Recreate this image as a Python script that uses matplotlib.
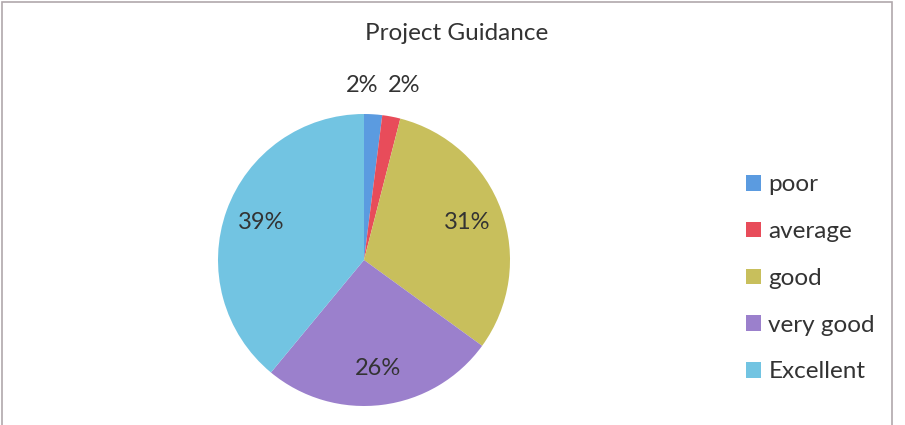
import numpy as np
from matplotlib import pyplot as plt
from matplotlib.patches import Rectangle

# Chart data.
categories = ['poor', 'average', 'good', 'very good', 'Excellent']
shares = [2, 2, 31, 26, 39]
colors = ['#5b9be0', '#e84c5a', '#c8bf5c', '#9b80cc', '#72c4e2']

W, H = 905, 425


def generatePlot():
  fig = plt.figure(figsize=(W / 100, H / 100), dpi=100)
  plt.rcParams['font.family'] = ['Lato', 'DejaVu Sans']
  textColor = '#333333'

  # Frame around the chart.
  fig.patches.append(Rectangle((2 / W, -0.05), 890 / W, 1.05 - 2 / H,
                               transform=fig.transFigure, fill=False,
                               edgecolor='#b0a8ac', linewidth=1.2))

  # Pie axes: center (364, 260) px, radius 146 px.
  cx, cy, r = 364, 260, 146
  ax = fig.add_axes([(cx - r) / W, (H - cy - r) / H, 2 * r / W, 2 * r / H])
  wedges, _ = ax.pie(shares, colors=colors, startangle=90, counterclock=False,
                     radius=1, wedgeprops=dict(linewidth=0))
  ax.set_xlim(-1, 1)
  ax.set_ylim(-1, 1)
  ax.set_aspect('equal')
  ax.axis('off')

  # Data labels: inside for big slices, above for the small ones.
  nudges = [(-9, 0), (5, 2), (0, 0), (0, 0), (0, 0)]
  for w, v, (nx, ny) in zip(wedges, shares, nudges):
    ang = np.deg2rad((w.theta1 + w.theta2) / 2)
    dist = 0.75 if v > 5 else 1.2
    x = dist * np.cos(ang)
    y = dist * np.sin(ang)
    ax.annotate(f'{v}%', (x, y), xytext=(nx, ny), textcoords='offset points',
                ha='center', va='center', fontsize=17, color=textColor,
                annotation_clip=False)

  fig.text(457 / W, 1 - 33 / H, 'Project Guidance', ha='center', va='center',
           fontsize=17.5, color=textColor)

  leg = fig.legend(wedges, categories, loc='upper left',
                   bbox_to_anchor=(727 / W, 1 - 155 / H), frameon=False,
                   fontsize=17.5, labelspacing=1.06, handlelength=0.6,
                   handleheight=0.6, handletextpad=0.3, borderpad=0.3)
  for t in leg.get_texts():
    t.set_color(textColor)

  fig.savefig('out.png', dpi=100)


if __name__ == '__main__':
  generatePlot()
